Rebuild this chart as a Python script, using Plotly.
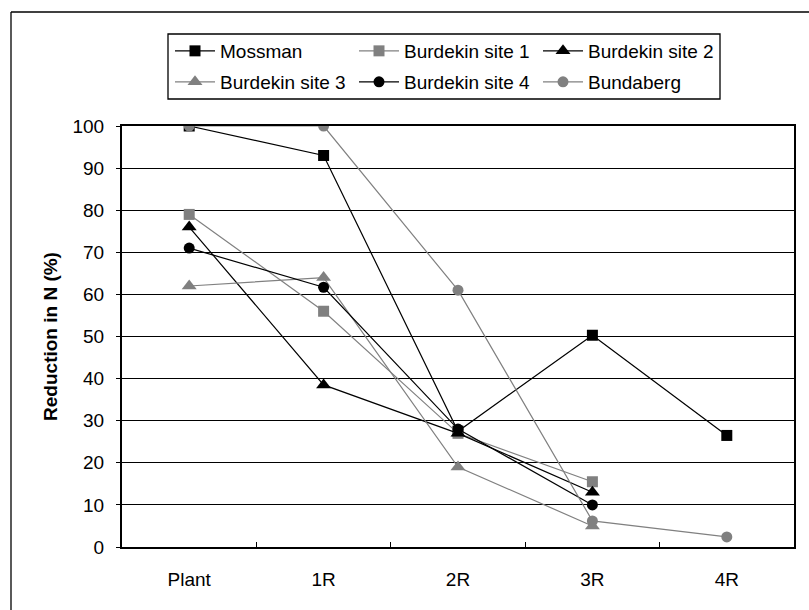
import plotly.graph_objects as go

categories = ["Plant", "1R", "2R", "3R", "4R"]
mossman = [100, 93, 27.5, 50.3, 26.5]
burdekin1 = [79, 56, 27, 15.5, None]
burdekin2 = [76, 38.5, 27, 13, None]
burdekin3 = [62, 64, 19, 5, None]
burdekin4 = [71, 61.7, 28, 10, None]
bundaberg = [100, 100, 61, 6.2, 2.4]

BLACK = "#000000"
GRAY = "#808080"
FONT = "Liberation Sans, Arial, sans-serif"

series = [
    ("Mossman", mossman, BLACK, "square", 11, "legend"),
    ("Burdekin site 1", burdekin1, GRAY, "square", 11, "legend"),
    ("Burdekin site 2", burdekin2, BLACK, "triangle-up", 13, "legend"),
    ("Burdekin site 3", burdekin3, GRAY, "triangle-up", 13, "legend2"),
    ("Burdekin site 4", burdekin4, BLACK, "circle", 11, "legend2"),
    ("Bundaberg", bundaberg, GRAY, "circle", 11, "legend2"),
]

fig = go.Figure()
for name, vals, col, sym, sz, lg in series:
    fig.add_trace(go.Scatter(
        x=categories, y=vals, name=name, mode="lines+markers",
        connectgaps=False,
        line=dict(color=col, width=1.2),
        marker=dict(color=col, symbol=sym, size=sz, line=dict(width=0)),
        legend=lg,
    ))

# pixel geometry helpers
L, R, T, B = 122, 794, 126, 547
def px(x):
    return (x - L) / (R - L)
def py(y):
    return (B - y) / (B - T)

legend_common = dict(
    orientation="h", xanchor="left", yanchor="middle",
    font=dict(family=FONT, size=19, color="#000"),
    bgcolor="rgba(0,0,0,0)", borderwidth=0,
    entrywidth=129, itemwidth=40, traceorder="normal",
)

fig.update_layout(
    width=809, height=610,
    margin=dict(l=L, r=809 - R, t=T, b=610 - B),
    paper_bgcolor="white", plot_bgcolor="white",
    font=dict(family=FONT, size=19, color="#000"),
    showlegend=True,
    legend=dict(x=px(170), y=py(51), **legend_common),
    legend2=dict(x=px(170), y=py(82), **legend_common),
    xaxis=dict(
        type="category", categoryorder="array", categoryarray=categories,
        range=[-0.5, 4.5],
        showline=True, linecolor="#000", linewidth=2, mirror=True,
        ticks="inside", ticklen=5, tickcolor="#000", tickwidth=1,
        tickson="boundaries", showgrid=False, zeroline=False,
        tickfont=dict(family=FONT, size=19, color="#000"),
        ticklabelstandoff=14,
    ),
    yaxis=dict(
        range=[0, 100], dtick=10, tick0=0,
        showline=True, linecolor="#000", linewidth=2, mirror=True,
        ticks="outside", ticklen=4, tickcolor="#000", tickwidth=1,
        showgrid=True, gridcolor="#000", gridwidth=1, zeroline=False,
        tickfont=dict(family=FONT, size=19, color="#000"),
        ticklabelstandoff=8,
        title=dict(text="<b>Reduction in N (%)</b>", standoff=10,
                   font=dict(family=FONT, size=19, color="#000")),
    ),
    shapes=[
        # outer chart frame (only top and left edges fall inside the view)
        dict(type="line", xref="paper", yref="paper",
             x0=px(11), x1=px(809), y0=py(12), y1=py(12),
             line=dict(color="#000", width=1.3)),
        dict(type="line", xref="paper", yref="paper",
             x0=px(11), x1=px(11), y0=py(12), y1=py(610),
             line=dict(color="#000", width=1.3)),
        # legend box
        dict(type="rect", xref="paper", yref="paper",
             x0=px(168), x1=px(720), y0=py(99), y1=py(34),
             line=dict(color="#000", width=1.3), layer="above"),
    ],
)

fig.write_html("out.html", config={"displayModeBar": False})
